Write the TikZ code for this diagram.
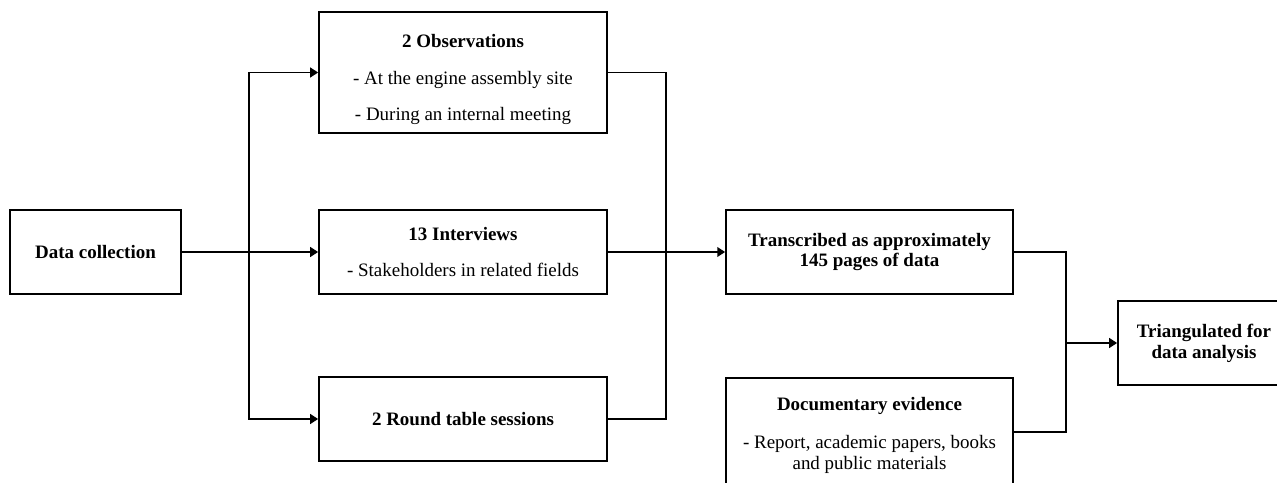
\documentclass[tikz,border=0pt]{standalone}
\usepackage{fontspec}
\setmainfont{Liberation Serif}
\usetikzlibrary{arrows.meta}

\begin{document}
\begin{tikzpicture}[x=0.02cm,y=-0.02cm,line width=1pt,
  box/.style={draw,inner sep=0pt,align=center,font=\fontsize{10.8}{11.8}\selectfont},
  arr/.style={-{Triangle[length=4.5pt,width=5.5pt]}}]
\useasboundingbox (0,0) rectangle (1277,483);

\node[box,minimum width=3.42cm,minimum height=1.68cm] (dc) at (95.5,252) {\textbf{Data collection}};
\node[box,minimum width=5.76cm,minimum height=2.42cm] (obs) at (463,72.5)
	{\rule{0pt}{15.5pt}\textbf{2 Observations}\\[9.2pt] - At the engine assembly site\\[9.2pt] - During an internal meeting};
\node[box,minimum width=5.76cm,minimum height=1.68cm] (int) at (463,252)
	{\textbf{13 Interviews}\\[9pt] - Stakeholders in related fields};
\node[box,minimum width=5.76cm,minimum height=1.68cm] (rt) at (463,419) {\textbf{2 Round table sessions}};
\node[box,minimum width=5.74cm,minimum height=1.68cm] (tr) at (869.5,252)
	{\textbf{Transcribed as approximately}\\ \textbf{145 pages of data}};
\node[box,minimum width=5.74cm,minimum height=2.16cm] (doc) at (869.5,432)
	{\rule{0pt}{11pt}\textbf{Documentary evidence}\\[10pt] - Report, academic papers, books\\ and public materials};
\node[box,minimum width=3.44cm,minimum height=1.68cm] (tri) at (1204,343)
	{\textbf{Triangulated for}\\ \textbf{data analysis}};

\coordinate (j1) at (249,252);
\coordinate (j2) at (666,252);
\coordinate (j3) at (1066,343);

% split
\draw[arr] (dc.east) -- (int.west);
\draw[arr] (j1) |- (obs.west);
\draw[arr] (j1) |- (rt.west);
% merge
\draw (obs.east) -| (j2);
\draw (rt.east) -| (j2);
\draw[arr] (int.east) -- (tr.west);
\draw (tr.east) -| (j3);
\draw (doc.east) -| (j3);
\draw[arr] (j3) -- (tri.west);
\end{tikzpicture}
\end{document}
